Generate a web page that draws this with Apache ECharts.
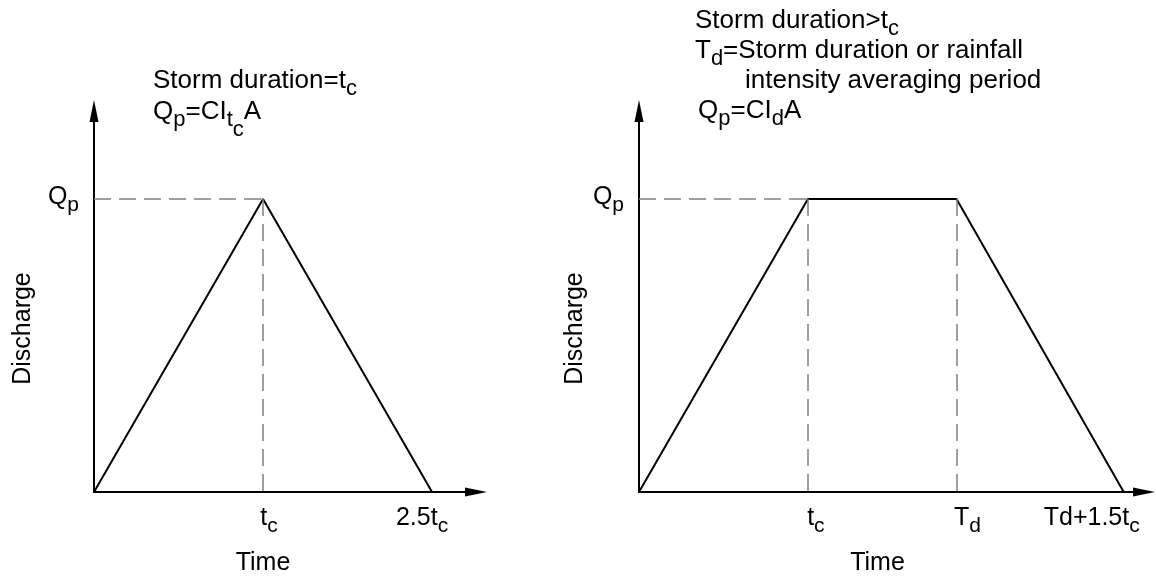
<!DOCTYPE html>
<html>
<head>
<meta charset="utf-8">
<title>Hydrograph</title>
<script src="https://cdn.jsdelivr.net/npm/echarts@6/dist/echarts.min.js"></script>
<style>
  html, body { margin: 0; padding: 0; background: #fff; }
  #chart { width: 1156px; height: 578px; }
</style>
</head>
<body>
<div id="chart"></div>
<script>
// time in units of tc (as drawn), discharge in units of Qp
const leftTime = [0, 1, 2];
const leftFlow = [0, 1, 0];
const rightTime = [0, 1, 1.88, 2.87];
const rightFlow = [0, 1, 1, 0];

// tick labels: main text + subscript
const leftTicks = [1, 2];
const leftTickMain = ['t', '2.5t'];
const leftTickSub = ['c', 'c'];
const rightTicks = [1, 1.88, 2.87];
const rightTickMain = ['t', 'T', 'Td+1.5t'];
const rightTickSub = ['c', 'd', 'c'];
const peakTick = [1];
const peakMain = ['Q'];
const peakSub = ['p'];

const FONT = 'Liberation Sans, Arial, sans-serif';
const ink = '#000';
const guide = '#808080';

const mainStyle = { fontFamily: FONT, fontSize: 25, fontWeight: 'normal', color: ink, lineHeight: 28, verticalAlign: 'top' };
const subStyle = { fontFamily: FONT, fontSize: 21, fontWeight: 'normal', color: ink, lineHeight: 22, verticalAlign: 'top', padding: [10, 0, 0, 0] };
// notes above the plots are a touch larger
const richText = {
  n: { fontFamily: FONT, fontSize: 26, fontWeight: 'normal', color: ink, lineHeight: 28, verticalAlign: 'top' },
  s: { fontFamily: FONT, fontSize: 22, fontWeight: 'normal', color: ink, lineHeight: 22, verticalAlign: 'top', padding: [10, 0, 0, 0] },
  ss: { fontFamily: FONT, fontSize: 22, fontWeight: 'normal', color: ink, lineHeight: 22, verticalAlign: 'top', padding: [20, 0, 0, 0] }
};

// small nudges so labels sit like in the drawing
function tickRich(shifts) {
  const r = { m: mainStyle, s: subStyle };
  shifts.forEach(function (d, i) {
    r['g' + i] = { width: Math.abs(2 * d), lineHeight: 28, verticalAlign: 'top' };
  });
  return r;
}
function tickFormatter(ticks, main, sub, shifts) {
  return function (v) {
    const i = ticks.findIndex(function (t) { return Math.abs(t - v) < 1e-6; });
    if (i < 0) return '';
    const body = '{m|' + main[i] + '}{s|' + sub[i] + '}';
    const g = '{g' + i + '| }';
    if (shifts[i] > 0) return g + body;
    if (shifts[i] < 0) return body + g;
    return body;
  };
}

function xAxisFor(gridIndex, max, ticks, main, sub, shifts, namePad) {
  return {
    type: 'value', gridIndex: gridIndex, min: 0, max: max,
    name: 'Time', nameLocation: 'middle', nameGap: 59,
    nameTextStyle: { fontFamily: FONT, fontSize: 25, color: ink, padding: [0, namePad, 0, 0] },
    axisLine: { show: true, symbol: ['none', 'triangle'], symbolSize: [9, 22], lineStyle: { color: ink, width: 2 } },
    axisTick: { show: false },
    splitLine: { show: false },
    axisLabel: {
      customValues: ticks, margin: 14,
      formatter: tickFormatter(ticks, main, sub, shifts),
      rich: tickRich(shifts)
    }
  };
}

function yAxisFor(gridIndex, nameGap) {
  return {
    type: 'value', gridIndex: gridIndex, min: 0, max: 1.3,
    name: 'Discharge', nameLocation: 'middle', nameGap: nameGap, nameRotate: 90,
    nameTextStyle: { fontFamily: FONT, fontSize: 25, color: ink, padding: [0, 54, 0, 0] },
    axisLine: { show: true, symbol: ['none', 'triangle'], symbolSize: [9, 22], lineStyle: { color: ink, width: 2 } },
    axisTick: { show: false },
    splitLine: { show: false },
    axisLabel: {
      customValues: peakTick, margin: 15,
      formatter: tickFormatter(peakTick, peakMain, peakSub, [0]),
      rich: tickRich([0])
    }
  };
}

function dashedGuides(time, flow) {
  // horizontal from the y axis to the first peak point, verticals down from each peak point
  const lines = [];
  const peaks = [];
  time.forEach(function (t, i) { if (flow[i] === 1) peaks.push(i); });
  lines.push([{ coord: [0, flow[peaks[0]]] }, { coord: [time[peaks[0]], flow[peaks[0]]] }]);
  peaks.forEach(function (i) {
    lines.push([{ coord: [time[i], flow[i]] }, { coord: [time[i], 0] }]);
  });
  return lines;
}

function hydrograph(xi, time, flow) {
  return {
    type: 'line', xAxisIndex: xi, yAxisIndex: xi,
    data: time.map(function (t, i) { return [t, flow[i]]; }),
    showSymbol: false, silent: true,
    lineStyle: { color: ink, width: 2 },
    markLine: {
      silent: true, symbol: ['none', 'none'],
      label: { show: false },
      lineStyle: { color: guide, width: 1.5, type: [17, 8] },
      data: dashedGuides(time, flow)
    }
  };
}

function note(text, left, top) {
  return { text: text, left: left, top: top, padding: 0, textStyle: { fontWeight: 'normal', rich: richText } };
}

const chart = echarts.init(document.getElementById('chart'), null, { renderer: 'canvas' });
chart.setOption({
  animation: false,
  backgroundColor: '#fff',
  title: [
    note('{n|Storm duration=t}{s|c}', 153, 68),
    note('{n|Q}{s|p}{n|=CI}{s|t}{ss|c}{n|A}', 153, 99),
    note('{n|Storm duration>t}{s|c}', 695, 8),
    note('{n|T}{s|d}{n|=Storm duration or rainfall}', 695, 38),
    note('{n|intensity averaging period}', 745, 68),
    note('{n|Q}{s|p}{n|=CI}{s|d}{n|A}', 698, 98)
  ],
  grid: [
    { left: 94, top: 111, width: 382, bottom: 86, outerBoundsMode: 'none', containLabel: false },
    { left: 639, top: 111, width: 505, bottom: 86, outerBoundsMode: 'none', containLabel: false }
  ],
  xAxis: [
    xAxisFor(0, 2.26, leftTicks, leftTickMain, leftTickSub, [6, -10], 44),
    xAxisFor(1, 2.99, rightTicks, rightTickMain, rightTickSub, [8, 11, -32], 28)
  ],
  yAxis: [
    yAxisFor(0, 58),
    yAxisFor(1, 51)
  ],
  series: [
    hydrograph(0, leftTime, leftFlow),
    hydrograph(1, rightTime, rightFlow)
  ]
});
</script>
</body>
</html>
